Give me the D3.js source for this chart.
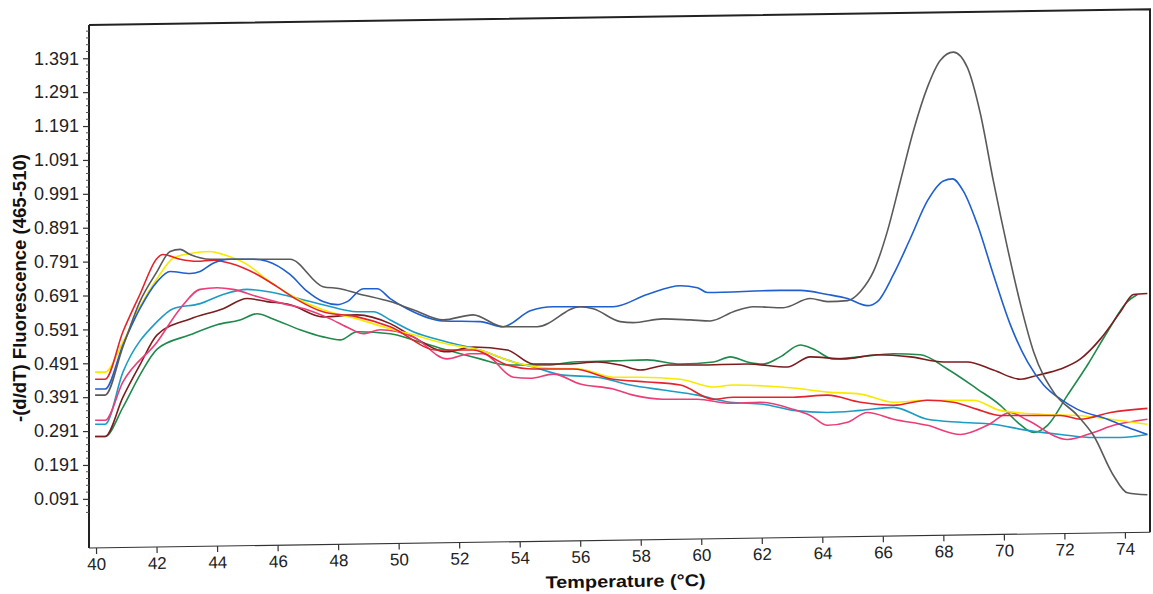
<!DOCTYPE html>
<html><head><meta charset="utf-8">
<script src="https://cdn.jsdelivr.net/npm/d3@7/dist/d3.min.js"></script>
<style>body{margin:0;background:#fff;overflow:hidden}</style>
</head><body>
<svg id="chart" width="1153" height="594"></svg>
<script>
// ---- data (temperature °C, -(d/dT) fluorescence) ----
const xTickValues = [40,42,44,46,48,50,52,54,56,58,60,62,64,66,68,70,72,74];
const yTickValues = [0.091,0.191,0.291,0.391,0.491,0.591,0.691,0.791,0.891,0.991,1.091,1.191,1.291,1.391];
const xTitle = "Temperature (°C)";
const yTitle = "-(d/dT) Fluorescence (465-510)";

const graySeries = [[39.97,0.397],[40.3,0.397],[40.89,0.540],[41.45,0.673],[42.02,0.762],[42.45,0.821],[42.78,0.827],[43.11,0.812],[43.77,0.798],[45.19,0.798],[46.41,0.798],[47.5,0.717],[48.07,0.711],[48.63,0.697],[49.72,0.673],[50.48,0.649],[51.47,0.619],[52.46,0.634],[53.45,0.599],[54.58,0.599],[56.0,0.658],[56.43,0.652],[57.32,0.614],[57.75,0.611],[58.74,0.622],[59.64,0.619],[60.3,0.616],[61.06,0.643],[61.72,0.658],[62.71,0.655],[63.6,0.682],[64.17,0.673],[64.83,0.676],[65.26,0.703],[65.69,0.762],[66.15,0.881],[66.58,1.029],[67.01,1.177],[67.47,1.305],[67.9,1.385],[68.33,1.409],[68.79,1.364],[69.22,1.228],[69.65,1.029],[70.12,0.830],[70.55,0.664],[70.98,0.525],[71.64,0.406],[72.43,0.337],[72.96,0.278],[73.62,0.160],[74.08,0.109],[74.74,0.103]];
const blueSeries = [[39.97,0.415],[40.3,0.415],[40.89,0.545],[41.45,0.652],[42.02,0.732],[42.45,0.762],[43.11,0.756],[43.44,0.762],[43.87,0.786],[44.43,0.798],[45.19,0.798],[45.65,0.792],[46.41,0.753],[46.98,0.703],[47.5,0.673],[47.97,0.664],[48.3,0.673],[48.83,0.711],[49.29,0.711],[49.72,0.682],[50.28,0.652],[51.47,0.616],[52.69,0.614],[53.45,0.599],[54.35,0.646],[55.11,0.658],[57.09,0.658],[58.21,0.694],[59.31,0.720],[59.87,0.714],[60.2,0.700],[62.61,0.706],[63.27,0.706],[64.17,0.694],[64.83,0.682],[65.49,0.661],[65.82,0.673],[66.35,0.753],[66.91,0.860],[67.47,0.970],[68.0,1.029],[68.3,1.035],[68.66,0.999],[69.12,0.901],[69.65,0.753],[70.21,0.605],[70.78,0.495],[71.31,0.427],[71.87,0.385],[72.43,0.355],[73.42,0.326],[74.08,0.302],[74.74,0.281]];
const redSeries = [[39.97,0.444],[40.3,0.444],[40.89,0.584],[41.45,0.694],[42.02,0.801],[42.21,0.812],[42.78,0.798],[43.34,0.792],[43.87,0.795],[44.43,0.786],[45.32,0.753],[45.98,0.717],[46.64,0.679],[47.5,0.643],[48.63,0.628],[49.72,0.599],[51.27,0.530],[52.46,0.530],[53.59,0.486],[54.45,0.474],[55.77,0.474],[57.09,0.444],[58.21,0.436],[59.31,0.427],[60.4,0.385],[61.06,0.391],[63.04,0.391],[64.17,0.397],[65.26,0.376],[66.35,0.367],[67.47,0.382],[68.33,0.376],[69.12,0.355],[69.88,0.337],[71.87,0.337],[72.53,0.326],[73.52,0.346],[74.74,0.358]];
const yellowSeries = [[39.97,0.465],[40.3,0.465],[40.89,0.554],[41.45,0.658],[42.02,0.741],[42.55,0.801],[43.11,0.815],[43.77,0.821],[44.2,0.812],[44.99,0.783],[45.65,0.738],[46.64,0.682],[47.5,0.649],[48.63,0.622],[49.72,0.593],[50.48,0.575],[51.6,0.548],[52.69,0.530],[53.79,0.495],[54.91,0.477],[56.0,0.474],[57.09,0.450],[57.98,0.450],[59.31,0.444],[60.4,0.421],[61.06,0.427],[63.04,0.418],[64.17,0.406],[65.26,0.400],[66.35,0.376],[67.47,0.382],[68.99,0.382],[69.88,0.352],[71.31,0.340],[72.43,0.337],[73.52,0.326],[74.74,0.311]];
const pinkSeries = [[39.97,0.323],[40.3,0.323],[40.89,0.436],[42.02,0.554],[42.78,0.652],[43.44,0.709],[44.0,0.714],[44.53,0.709],[45.32,0.688],[46.18,0.667],[46.98,0.649],[47.74,0.622],[48.4,0.593],[48.83,0.578],[49.39,0.590],[50.48,0.569],[51.6,0.504],[52.36,0.519],[52.79,0.519],[53.79,0.450],[54.35,0.447],[55.11,0.459],[56.0,0.430],[57.09,0.415],[57.75,0.397],[58.74,0.385],[59.87,0.385],[60.96,0.373],[61.95,0.376],[63.04,0.355],[63.6,0.337],[64.17,0.308],[64.83,0.317],[65.49,0.346],[66.35,0.326],[67.47,0.308],[68.56,0.281],[69.45,0.308],[70.21,0.346],[70.78,0.323],[72.1,0.266],[72.96,0.287],[73.62,0.308],[74.74,0.326]];
const tealSeries = [[39.97,0.311],[40.3,0.311],[40.89,0.465],[42.02,0.614],[42.55,0.652],[43.44,0.667],[44.2,0.694],[44.99,0.709],[45.65,0.703],[46.41,0.688],[47.5,0.664],[48.63,0.643],[49.16,0.643],[49.72,0.619],[50.48,0.584],[51.6,0.554],[52.69,0.530],[53.79,0.495],[54.45,0.480],[55.44,0.456],[56.56,0.450],[57.65,0.427],[58.74,0.412],[59.87,0.397],[60.96,0.376],[62.05,0.370],[63.04,0.352],[64.17,0.346],[65.26,0.352],[66.35,0.361],[67.47,0.326],[68.56,0.317],[69.65,0.311],[70.78,0.293],[71.87,0.281],[72.96,0.272],[73.85,0.272],[74.74,0.281]];
const maroonSeries = [[39.97,0.275],[40.3,0.275],[40.89,0.391],[41.45,0.486],[42.02,0.575],[43.11,0.622],[44.2,0.652],[44.99,0.682],[45.65,0.673],[46.41,0.664],[47.5,0.628],[48.63,0.634],[49.72,0.608],[50.48,0.569],[51.6,0.525],[52.46,0.539],[53.59,0.530],[54.45,0.489],[55.57,0.489],[56.56,0.495],[57.32,0.486],[57.98,0.471],[58.88,0.486],[59.87,0.486],[61.52,0.489],[62.84,0.480],[63.6,0.510],[64.69,0.504],[65.82,0.516],[66.91,0.510],[68.0,0.495],[68.79,0.495],[69.65,0.471],[70.55,0.444],[71.11,0.456],[71.87,0.474],[72.53,0.504],[73.19,0.563],[73.85,0.643],[74.28,0.694],[74.74,0.697]];
const greenSeries = [[39.97,0.275],[40.3,0.275],[40.89,0.361],[41.45,0.456],[42.02,0.533],[43.11,0.575],[44.0,0.605],[44.76,0.619],[45.32,0.637],[45.85,0.622],[46.74,0.590],[47.5,0.569],[48.07,0.560],[48.63,0.584],[49.72,0.578],[50.48,0.560],[51.6,0.530],[52.69,0.504],[53.59,0.486],[54.91,0.486],[55.77,0.495],[57.09,0.498],[58.21,0.501],[59.31,0.489],[60.4,0.495],[60.96,0.510],[61.52,0.495],[62.05,0.489],[62.61,0.510],[63.27,0.545],[63.7,0.533],[64.36,0.504],[65.26,0.510],[66.35,0.519],[67.24,0.516],[68.13,0.474],[69.12,0.415],[69.88,0.367],[70.45,0.317],[70.98,0.287],[71.44,0.308],[72.1,0.397],[72.76,0.486],[73.42,0.584],[74.08,0.673],[74.41,0.694]];

const seriesList = [
  {name:"green",  color:"#1f8a4c", data:greenSeries},
  {name:"maroon", color:"#7b1c1f", data:maroonSeries},
  {name:"teal",   color:"#1c9cc4", data:tealSeries},
  {name:"pink",   color:"#ec3d78", data:pinkSeries},
  {name:"yellow", color:"#f7ea00", data:yellowSeries},
  {name:"red",    color:"#e5232b", data:redSeries},
  {name:"blue",   color:"#1f5fcf", data:blueSeries},
  {name:"gray",   color:"#5a5a5a", data:graySeries}
];

// ---- layout ----
const plotLeft = 89, plotRight = 1150, plotTop = 25, plotBottom = 548;
const tilt = -0.85; // scan skew of the original figure, degrees
const svg = d3.select("#chart");
const font = "'Liberation Sans Narrow','Arial Narrow','Liberation Sans',sans-serif";

const x = d3.scaleLinear().domain([40, 74]).range([96, 1125]);
const y = d3.scaleLinear().domain([-0.054, 1.498]).range([plotBottom, plotTop - 3]);

const tiltRad = tilt * Math.PI / 180;
const skew = (plotRight - plotLeft) * Math.tan(tiltRad);

// frame (slightly skewed like the scanned original)
svg.append("path")
  .attr("d", `M${plotLeft},${plotTop} L${plotRight},${plotTop + skew} L${plotRight},${plotBottom + skew} M${plotLeft},${plotTop} L${plotLeft},${plotBottom}`)
  .attr("fill", "none").attr("stroke", "#222").attr("stroke-width", 2);

// y axis
const yAxisG = svg.append("g").attr("transform", `translate(${plotLeft},0)`);
yAxisG.call(d3.axisLeft(y).tickValues(yTickValues).tickFormat(d3.format(".3f")).tickSize(6).tickPadding(4))
  .call(g => g.select(".domain").remove())
  .call(g => g.selectAll("text").attr("font-family", font).attr("font-size", 18).attr("fill", "#222"))
  .call(g => g.selectAll("line").attr("stroke", "#333").attr("stroke-width", 1.2));
const minorY = d3.range(0.051, 1.48, 0.02).filter(v => !yTickValues.some(t => Math.abs(t - v) < 1e-6));
yAxisG.selectAll("line.minor").data(minorY).join("line").attr("class", "minor")
  .attr("x1", -3).attr("x2", 0).attr("y1", d => y(d)).attr("y2", d => y(d))
  .attr("stroke", "#555").attr("stroke-width", 1);

// x axis, rotated with the skew
const xAxisG = svg.append("g").attr("transform", `rotate(${tilt},${plotLeft},${plotBottom}) translate(0,${plotBottom})`);
xAxisG.append("line").attr("x1", plotLeft).attr("x2", plotRight).attr("y1", 0).attr("y2", 0)
  .attr("stroke", "#222").attr("stroke-width", 2);
xAxisG.call(d3.axisBottom(x).tickValues(xTickValues).tickFormat(d3.format("d")).tickSize(6).tickPadding(4))
  .call(g => g.select(".domain").remove())
  .call(g => g.selectAll("text").attr("font-family", font).attr("font-size", 17).attr("fill", "#222"))
  .call(g => g.selectAll("line").attr("stroke", "#333").attr("stroke-width", 1.2));
xAxisG.append("text").attr("x", 625).attr("y", 47).attr("text-anchor", "middle")
  .attr("font-family", font).attr("font-weight", "bold").attr("font-size", 17)
  .attr("textLength", 160).attr("lengthAdjust", "spacingAndGlyphs").attr("fill", "#111").text(xTitle);

// y title
svg.append("text").attr("transform", "translate(26,288) rotate(-90)").attr("text-anchor", "middle")
  .attr("font-family", font).attr("font-weight", "bold").attr("font-size", 18)
  .attr("textLength", 268).attr("lengthAdjust", "spacingAndGlyphs").attr("fill", "#111").text(yTitle);

// lines
const line = d3.line().x(d => x(d[0])).y(d => y(d[1])).curve(d3.curveMonotoneX);
svg.append("g").selectAll("path").data(seriesList).join("path")
  .attr("d", d => line(d.data)).attr("fill", "none")
  .attr("stroke", d => d.color).attr("stroke-width", 1.6).attr("stroke-linejoin", "round");
</script>
</body></html>
